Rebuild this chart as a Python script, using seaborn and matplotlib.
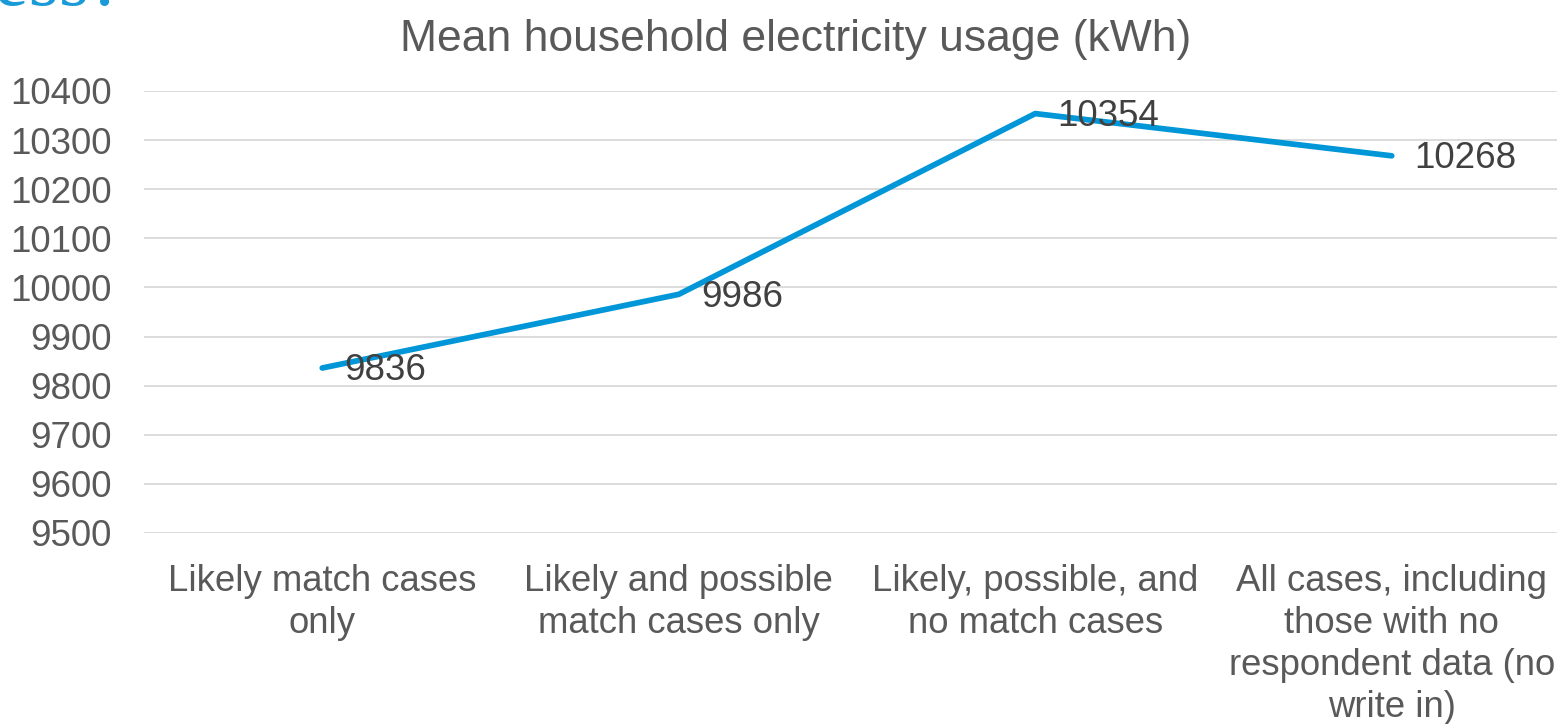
import matplotlib
matplotlib.use("Agg")
import matplotlib.pyplot as plt
import seaborn as sns
import pandas as pd

categories = [
    "Likely match cases\nonly",
    "Likely and possible\nmatch cases only",
    "Likely, possible, and\nno match cases",
    "All cases, including\nthose with no\nrespondent data (no\nwrite in)",
]
usage_kwh = [9836, 9986, 10354, 10268]
y_ticks = [9500, 9600, 9700, 9800, 9900, 10000, 10100, 10200, 10300, 10400]
title = "Mean household electricity usage (kWh)"

sns.set_theme(style="white")
plt.rcParams["font.family"] = ["Liberation Sans", "DejaVu Sans"]

W, H = 1557, 724
fig = plt.figure(figsize=(W / 100, H / 100), dpi=100)
fig.patch.set_facecolor("white")

left, right, bottom, top = 144, 1570, 533, 91
ax = fig.add_axes([left / W, 1 - bottom / H, (right - left) / W, (bottom - top) / H])

df = pd.DataFrame({"pos": range(len(categories)), "usage": usage_kwh})

for t in y_ticks:
    ax.axhline(t, color="#D9D9D9", lw=1.3, zorder=0)

sns.lineplot(data=df, x="pos", y="usage", ax=ax, color="#0096D7", lw=4.1,
             solid_capstyle="round", solid_joinstyle="round", zorder=3)

for x, v in zip(df["pos"], df["usage"]):
    ax.annotate(f"{v}", (x, v), xytext=(16, -2), textcoords="offset points",
                ha="left", va="center", fontsize=26.5, color="#404040", zorder=4)

ax.set_xlim(-0.5, len(categories) - 0.5)
ax.set_ylim(y_ticks[0], y_ticks[-1])
ax.set_yticks(y_ticks)
ax.set_yticklabels([str(t) for t in y_ticks])
ax.set_xticks(list(df["pos"]))
ax.set_xticklabels(categories, linespacing=1.27)
ax.tick_params(axis="y", labelsize=26.5, labelcolor="#595959", length=0, pad=23)
ax.tick_params(axis="x", labelsize=26.3, labelcolor="#595959", length=0, pad=22)
ax.set_xlabel("")
ax.set_ylabel("")
for s in ax.spines.values():
    s.set_visible(False)
ax.grid(False)

fig.text(796 / W, 1 - 40 / H, title, ha="center", va="center",
         fontsize=32, color="#595959")

# slide heading running off the top edge
fig.text(-6 / W, 1 - 5 / H, "ess?", ha="left", va="baseline",
         fontsize=56, color="#1A9BD7", family="Liberation Serif")

fig.savefig("out.png", dpi=100, facecolor="white")
